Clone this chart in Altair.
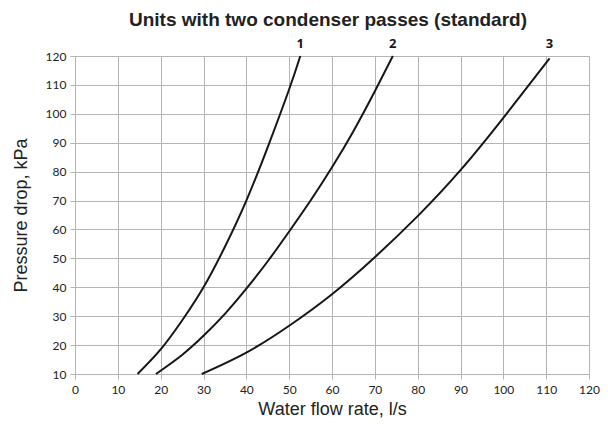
import altair as alt
import pandas as pd

# Curve readings (water flow rate l/s, pressure drop kPa)
curve_names = ["1", "2", "3"]
c1_flow = [14.6, 20.0, 25.0, 30.0, 35.0, 40.0, 45.0, 50.0, 52.6]
c1_dp = [10, 18.5, 28.5, 40, 54, 70, 88.5, 108.5, 120]
c2_flow = [18.9, 25.0, 30.0, 35.0, 40.0, 45.0, 50.0, 55.0, 60.0, 65.0, 70.0, 74.2]
c2_dp = [10, 16.6, 23.2, 30.8, 39.5, 49, 59.3, 70, 81.5, 94, 107.8, 120]
c3_flow = [29.6, 40.0, 50.0, 60.0, 70.0, 80.0, 90.0, 100.0, 110.8]
c3_dp = [10, 17.4, 26.7, 37.6, 50.4, 64.6, 80.5, 98.6, 119.2]

x_ticks = list(range(0, 121, 10))
y_ticks = list(range(10, 121, 10))

rows = []
for name, xs, ys in zip(curve_names, [c1_flow, c2_flow, c3_flow], [c1_dp, c2_dp, c3_dp]):
    for i, (x, y) in enumerate(zip(xs, ys)):
        rows.append({"curve": name, "flow": x, "dp": y, "order": i})
df = pd.DataFrame(rows)

label_df = pd.DataFrame({
    "curve": curve_names,
    "flow": [c1_flow[-1], c2_flow[-1], c3_flow[-1]],
    "dp": [120, 120, 120],
})

grid_c = "#b4b4b4"

x_enc = alt.X(
    "flow:Q",
    scale=alt.Scale(domain=[0, 120], nice=False),
    axis=alt.Axis(
        values=x_ticks, tickCount=30, title="Water flow rate, l/s", grid=True,
        labelFont="Lato", labelFontSize=12, labelColor="#222222", labelPadding=5,
        labelOverlap=False, labelFlush=False,
        titleFont="Liberation Sans", titleFontSize=18, titleFontWeight="normal",
        titleColor="#222222", titlePadding=5,
    ),
)
y_enc = alt.Y(
    "dp:Q",
    scale=alt.Scale(domain=[10, 120], nice=False, zero=False),
    axis=alt.Axis(
        values=y_ticks, tickCount=30, title="Pressure drop, kPa", grid=True,
        labelFont="Lato", labelFontSize=12, labelColor="#222222", labelPadding=4,
        labelOverlap=False, labelFlush=False,
        titleFont="Liberation Sans", titleFontSize=18, titleFontWeight="normal",
        titleColor="#222222", titlePadding=15,
    ),
)

lines = alt.Chart(df).mark_line(
    color="#161616", strokeWidth=2, interpolate="natural"
).encode(x=x_enc, y=y_enc, detail="curve:N", order="order:Q")

labels = alt.Chart(label_df).mark_text(
    font="Open Sans", fontSize=13, fontWeight="bold", color="#161616",
    baseline="middle", dy=-12,
).encode(x="flow:Q", y="dp:Q", text="curve:N")

chart = (lines + labels).properties(
    width=514,
    height=318,
    autosize=alt.AutoSizeParams(type="none"),
    padding={"left": 67, "top": 48, "right": 11, "bottom": 50},
    title=alt.TitleParams(
        "Units with two condenser passes (standard)",
        font="Liberation Sans", fontSize=19, fontWeight="bold", color="#222222",
        anchor="middle", dx=-4, offset=8,
    ),
).configure_axis(
    gridColor=grid_c, gridWidth=1, domainColor=grid_c, domainWidth=1,
    tickColor=grid_c, tickSize=5, tickWidth=1,
).configure_view(stroke=grid_c, strokeWidth=1)

chart.save("out.html", embed_options={"renderer": "svg", "actions": False})
